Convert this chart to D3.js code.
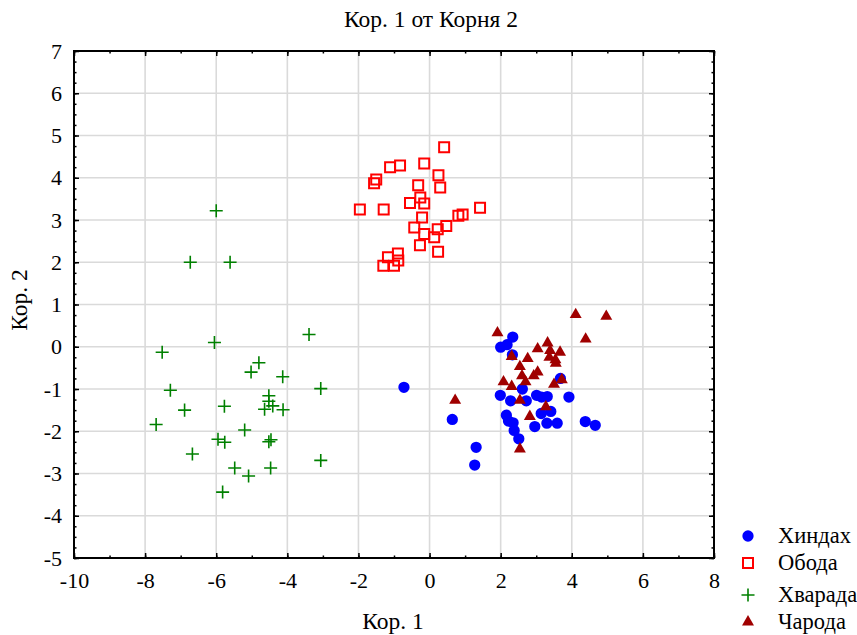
<!DOCTYPE html>
<html>
<head>
<meta charset="utf-8">
<script src="https://cdn.jsdelivr.net/npm/d3@7"></script>
<style>
  body { margin: 0; background: #fff; }
</style>
</head>
<body>
<div id="chart-area"></div>
<script>
// Groups and their points [Кор. 1, Кор. 2]
const GROUPS = ["Хиндах", "Обода", "Хварада", "Чарода"]

const hindah = [
  [-0.72, -0.96], [2.34, 0.23], [2.18, 0.05], [2.0, -0.01], [2.33, -0.19],
  [3.68, -0.75], [2.61, -1.0], [1.99, -1.15], [2.28, -1.28], [2.72, -1.28],
  [3.01, -1.15], [3.15, -1.19], [3.31, -1.18], [3.92, -1.19], [0.64, -1.72],
  [2.16, -1.62], [2.22, -1.76], [2.35, -1.80], [2.38, -1.98], [2.51, -2.18],
  [2.96, -1.89], [3.14, -1.58], [3.41, -1.53], [3.30, -1.81], [3.59, -1.81],
  [4.38, -1.77], [4.66, -1.86], [1.31, -2.38], [1.27, -2.80]
]

const oboda = [
  [0.41, 4.72], [-1.11, 4.25], [-0.83, 4.29], [-0.15, 4.34], [-1.50, 3.96],
  [-1.56, 3.87], [0.25, 4.06], [-0.32, 3.82], [0.30, 3.77], [-0.26, 3.53],
  [-0.55, 3.40], [-0.15, 3.39], [-1.96, 3.25], [-1.29, 3.25], [1.42, 3.29],
  [0.81, 3.10], [0.93, 3.13], [-0.21, 3.06], [0.47, 2.86], [0.23, 2.78],
  [-0.43, 2.82], [-0.15, 2.67], [0.13, 2.59], [-0.27, 2.40], [0.24, 2.25],
  [-0.89, 2.21], [-1.17, 2.12], [-0.88, 2.04], [-1.30, 1.92], [-1.00, 1.92]
]

const hvarada = [
  [-6.0, 3.22], [-6.73, 2.0], [-5.61, 2.0],
  [-3.39, 0.29], [-6.05, 0.10], [-7.52, -0.13], [-4.80, -0.38], [-5.02, -0.60],
  [-4.13, -0.71], [-7.29, -1.03], [-3.06, -0.99], [-4.52, -1.16], [-4.52, -1.29],
  [-4.41, -1.40], [-4.64, -1.48], [-4.12, -1.49], [-6.89, -1.50], [-5.77, -1.41],
  [-7.69, -1.84], [-5.20, -1.97], [-5.95, -2.19], [-5.76, -2.26], [-4.52, -2.25],
  [-4.46, -2.20], [-6.67, -2.54], [-5.48, -2.87], [-4.47, -2.87], [-3.06, -2.69],
  [-5.09, -3.06], [-5.82, -3.44]
]

const haroda = [
  [4.11, 0.76], [4.97, 0.72], [4.39, 0.18], [1.91, 0.33], [3.32, 0.09],
  [3.04, -0.05], [3.39, -0.09], [3.67, -0.13], [2.31, -0.23], [2.76, -0.28],
  [3.37, -0.25], [3.54, -0.31], [3.55, -0.39], [2.54, -0.47], [3.04, -0.60],
  [2.93, -0.69], [2.60, -0.69], [2.70, -0.83], [2.08, -0.83], [2.31, -0.94],
  [3.50, -0.89], [3.72, -0.78], [0.72, -1.27], [2.54, -1.27], [3.27, -1.42],
  [2.82, -1.65], [2.54, -2.42]
]

const X_MAJOR = d3.range(-10, 9, 2)
const X_MINOR = d3.range(-10, 9, 1)
const Y_MAJOR = d3.range(-5, 8, 1)
const Y_MINOR = d3.range(-5, 7.01, 0.25)

const FONT = "'Liberation Serif', Tinos, 'Times New Roman', Times, 'DejaVu Serif', serif"
const FS = 22
const FS_TITLE = 23.5

const W = 857, H = 635
const PLOT = { LEFT: 74, RIGHT: 714, TOP: 51, BOTTOM: 558 }

const svg = d3.select("#chart-area").append("svg")
  .attr("width", W)
  .attr("height", H)
  .attr("font-family", FONT)

svg.append("rect").attr("width", W).attr("height", H).attr("fill", "#fff")

const x = d3.scaleLinear().domain([-10, 8]).range([PLOT.LEFT, PLOT.RIGHT])
const y = d3.scaleLinear().domain([-5, 7]).range([PLOT.BOTTOM, PLOT.TOP])

// Grid
const grid = svg.append("g").attr("stroke", "#dadada").attr("stroke-width", 1.6)
grid.selectAll(".gx").data(X_MAJOR.slice(1, -1)).enter().append("line")
  .attr("x1", d => x(d)).attr("x2", d => x(d))
  .attr("y1", PLOT.TOP).attr("y2", PLOT.BOTTOM)
grid.selectAll(".gy").data(Y_MAJOR.slice(1, -1)).enter().append("line")
  .attr("y1", d => y(d)).attr("y2", d => y(d))
  .attr("x1", PLOT.LEFT).attr("x2", PLOT.RIGHT)

// Axes (ticks inward)
function styleAxis(sel) {
  sel.attr("font-family", FONT).attr("font-size", FS)
  sel.select(".domain").remove()
  sel.selectAll(".tick line").attr("stroke", "#000").attr("stroke-width", 1.5)
  sel.selectAll("text").attr("fill", "#000")
    .style("font-family", FONT).style("font-size", FS + "px")
}

const axes = [
  [d3.axisBottom(x), PLOT.BOTTOM, "y", X_MAJOR, X_MINOR, true],
  [d3.axisTop(x), PLOT.TOP, "y", X_MAJOR, X_MINOR, false],
  [d3.axisLeft(y), PLOT.LEFT, "x", Y_MAJOR, Y_MINOR, true],
  [d3.axisRight(y), PLOT.RIGHT, "x", Y_MAJOR, Y_MINOR, false]
]
axes.forEach(([axis, pos, dir, major, minor, labels]) => {
  const tr = dir === "y" ? `translate(0,${pos})` : `translate(${pos},0)`
  svg.append("g").attr("transform", tr)
    .call(axis.tickValues(minor).tickSize(-2.5).tickFormat(""))
    .call(styleAxis)
  svg.append("g").attr("transform", tr)
    .call(axis.tickValues(major).tickSize(-5)
      .tickPadding(dir === "y" ? 14 : 12)
      .tickFormat(labels ? (d => String(d)) : ""))
    .call(styleAxis)
})

// Frame
svg.append("rect")
  .attr("x", PLOT.LEFT).attr("y", PLOT.TOP)
  .attr("width", PLOT.RIGHT - PLOT.LEFT).attr("height", PLOT.BOTTOM - PLOT.TOP)
  .attr("fill", "none").attr("stroke", "#000").attr("stroke-width", 2)

// Marker shapes
const plusType = {
  draw(ctx, size) {
    const r = Math.sqrt(size) / 2
    ctx.moveTo(-r, 0); ctx.lineTo(r, 0)
    ctx.moveTo(0, -r); ctx.lineTo(0, r)
  }
}
const STYLES = [
  { type: d3.symbolCircle, size: 100, fill: "#0000ff", stroke: "none", sw: 0 },
  { type: d3.symbolSquare, size: 100, fill: "none", stroke: "#ff0000", sw: 2 },
  { type: plusType, size: 170, fill: "none", stroke: "#008000", sw: 1.6 },
  { type: d3.symbolTriangle, size: 62, fill: "#a00000", stroke: "none", sw: 0 }
]
const SERIES = [hindah, oboda, hvarada, haroda]

// Points
SERIES.forEach((data, i) => {
  const s = STYLES[i]
  svg.append("g").selectAll("path").data(data).enter().append("path")
    .attr("transform", d => `translate(${x(d[0])},${y(d[1])})`)
    .attr("d", d3.symbol().type(s.type).size(s.size))
    .attr("fill", s.fill).attr("stroke", s.stroke).attr("stroke-width", s.sw)
})

// Legend
const LEG_Y = [536, 563, 595, 622]
GROUPS.forEach((name, i) => {
  const s = STYLES[i]
  svg.append("path")
    .attr("transform", `translate(748,${LEG_Y[i]})`)
    .attr("d", d3.symbol().type(s.type).size(s.size))
    .attr("fill", s.fill).attr("stroke", s.stroke).attr("stroke-width", s.sw)
  svg.append("text")
    .attr("x", 778).attr("y", LEG_Y[i] + 7)
    .attr("font-size", 22.5)
    .text(name)
})

// Titles
svg.append("text")
  .attr("x", 431).attr("y", 27)
  .attr("text-anchor", "middle").attr("font-size", FS_TITLE)
  .text("Кор. 1 от Корня 2")

svg.append("text")
  .attr("x", 393).attr("y", 629)
  .attr("text-anchor", "middle").attr("font-size", FS_TITLE)
  .text("Кор. 1")

svg.append("text")
  .attr("transform", "translate(27,300) rotate(-90)")
  .attr("text-anchor", "middle").attr("font-size", FS_TITLE)
  .text("Кор. 2")
</script>
</body>
</html>
